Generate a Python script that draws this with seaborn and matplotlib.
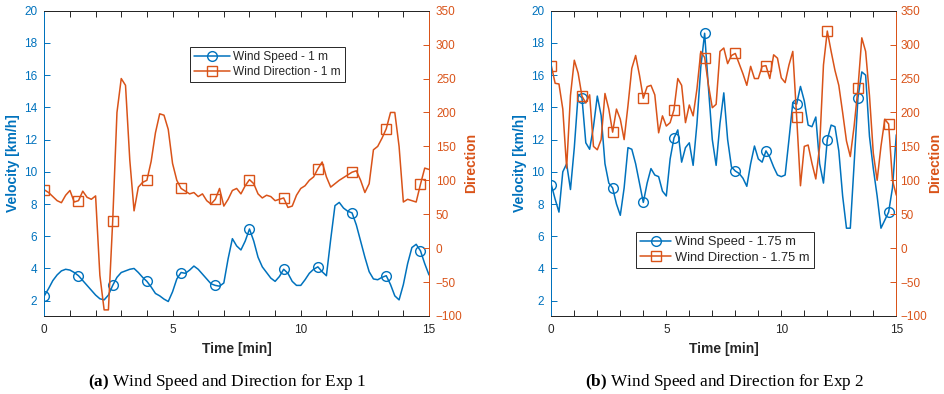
import numpy as np
import matplotlib
matplotlib.use("Agg")
import matplotlib.pyplot as plt
from matplotlib.lines import Line2D
import seaborn as sns

sns.set_style("ticks")
plt.rcParams["font.family"] = ["Liberation Sans", "DejaVu Sans"]
plt.rcParams["mathtext.fontset"] = "custom"
plt.rcParams["mathtext.rm"] = "Liberation Serif"
plt.rcParams["mathtext.bf"] = "Liberation Serif:bold"

BLUE = "#0072BD"
ORANGE = "#D95319"
DARK = "#262626"

# sample times: one reading every 10 s over 15 minutes
time_min = np.arange(91) / 6

# Exp 1, sensor at 1 m
speed_1m = [
    2.30, 2.75, 3.25, 3.60, 3.85, 3.95, 3.90, 3.75, 3.55, 3.25,
    2.95, 2.65, 2.35, 2.12, 2.05, 2.35, 2.95, 3.45, 3.75, 3.85,
    3.95, 4.00, 3.75, 3.45, 3.20, 2.85, 2.45, 2.30, 2.10, 1.95,
    2.55, 3.35, 3.75, 3.70, 3.90, 4.15, 3.95, 3.65, 3.35, 3.05,
    2.95, 2.90, 3.10, 4.60, 5.85, 5.40, 5.15, 5.70, 6.45, 5.70,
    4.70, 4.10, 3.75, 3.40, 3.20, 3.50, 3.95, 3.70, 3.20, 2.95,
    2.95, 3.30, 3.70, 3.95, 4.10, 3.80, 3.55, 5.80, 7.90, 8.10,
    7.75, 7.55, 7.45, 6.70, 5.70, 4.70, 3.80, 3.35, 3.30, 3.45,
    3.55, 3.00, 2.30, 2.05, 3.00, 4.30, 5.30, 5.50, 5.10, 4.30,
    3.60,
]
direction_1m = [
    86, 82, 76, 70, 67, 78, 85, 68, 70, 84,
    75, 72, 77, -40, -91, -91, 40, 200, 250, 240,
    130, 55, 90, 97, 100, 128, 170, 198, 196, 175,
    125, 100, 88, 84, 80, 82, 76, 80, 70, 65,
    72, 88, 62, 72, 85, 88, 80, 92, 101, 95,
    80, 74, 78, 76, 70, 72, 74, 60, 62, 78,
    88, 92, 100, 105, 117, 127, 105, 90, 95, 100,
    104, 108, 112, 114, 100, 82, 95, 145, 150, 162,
    176, 200, 200, 150, 68, 72, 70, 68, 94, 118,
    116,
]

# Exp 2, sensor at 1.75 m
speed_175m = [
    9.2, 8.3, 7.5, 10.0, 10.5, 8.9, 11.5, 14.8, 14.6, 11.8,
    11.4, 12.8, 14.7, 13.5, 10.5, 9.3, 9.0, 8.0, 7.3, 9.0,
    11.5, 11.4, 10.5, 9.3, 8.1, 9.3, 10.2, 9.8, 9.7, 8.8,
    8.5, 10.8, 12.1, 12.6, 10.6, 11.5, 11.8, 10.4, 13.0, 16.5,
    18.6, 15.2, 12.0, 10.4, 13.0, 14.9, 12.0, 10.3, 10.05, 9.9,
    9.6, 9.1, 10.5, 11.6, 10.8, 10.6, 11.3, 10.9, 10.3, 9.8,
    9.7, 9.8, 12.0, 14.3, 14.2, 15.3, 14.4, 12.9, 12.8, 13.4,
    10.5, 9.3, 12.0, 12.9, 12.8, 11.3, 8.5, 6.5, 6.5, 10.5,
    14.6, 16.2, 16.0, 12.2, 10.2, 8.5, 6.5, 7.0, 7.5, 9.0,
    12.3,
]
direction_175m = [
    269, 243, 242, 205, 118, 225, 277, 258, 224, 214,
    226, 150, 145, 160, 228, 205, 171, 205, 190, 160,
    210, 265, 284, 255, 221, 238, 240, 226, 170, 195,
    180, 185, 204, 250, 240, 185, 211, 195, 235, 290,
    281, 240, 207, 212, 290, 295, 272, 284, 287, 272,
    257, 240, 268, 250, 250, 268, 269, 250, 285, 280,
    251, 244, 270, 290, 194, 92, 150, 152, 125, 102,
    150, 270, 320, 290, 262, 240, 200, 158, 135, 180,
    236, 310, 290, 225, 140, 100, 150, 190, 183, 100,
    78,
]

fig = plt.figure(figsize=(9.44, 3.94), dpi=100)
ax_a = fig.add_axes([44.3 / 944, 1 - 316 / 394, 384.7 / 944, 305.3 / 394])
ax_b = fig.add_axes([551.3 / 944, 1 - 316 / 394, 345 / 944, 305.3 / 394])


def draw_panel(ax, speed, direction, height, legend_anchor, legend_loc,
               legend_size, handle_len, right_pad, tick_pad):
    ax2 = ax.twinx()
    sns.lineplot(x=time_min, y=speed, ax=ax, color=BLUE, linewidth=1.1,
                 marker="o", markevery=8, markersize=7,
                 markerfacecolor="none", markeredgecolor=BLUE,
                 markeredgewidth=1.0, legend=False)
    sns.lineplot(x=time_min, y=direction, ax=ax2, color=ORANGE, linewidth=1.1,
                 marker="s", markevery=8, markersize=6.5,
                 markerfacecolor="none", markeredgecolor=ORANGE,
                 markeredgewidth=1.0, legend=False)

    ax.set_xlim(0, 15)
    ax.set_ylim(1.05, 20)
    ax2.set_ylim(-100, 350)
    ax.set_xticks(range(16))
    ax.set_xticklabels([str(i) if i % 5 == 0 else "" for i in range(16)])
    ax.set_yticks(range(2, 21, 2))
    ax2.set_yticks(range(-100, 351, 50))

    ax.tick_params(axis="x", direction="in", length=4, width=0.7, top=True,
                   colors=DARK, labelsize=8.5, pad=6)
    ax.tick_params(axis="y", direction="in", length=4, width=0.7,
                   colors=BLUE, labelsize=8.5, pad=5)
    ax2.tick_params(axis="y", direction="in", length=4, width=0.7,
                    colors=ORANGE, labelsize=8.5, pad=tick_pad)

    for a in (ax, ax2):
        a.spines["left"].set_color(BLUE)
        a.spines["right"].set_color(ORANGE)
        a.spines["top"].set_color(DARK)
        a.spines["bottom"].set_color(DARK)
        for s in a.spines.values():
            s.set_linewidth(0.7)

    ax.set_xlabel("Time [min]", fontsize=10, fontweight="bold", color=DARK,
                  labelpad=4)
    ax.set_ylabel("Velocity [km/h]", fontsize=10, fontweight="bold",
                  color=BLUE, labelpad=3)
    ax2.set_ylabel("Direction", fontsize=10, fontweight="bold", color=ORANGE,
                   rotation=90, labelpad=right_pad)

    handles = [
        Line2D([], [], color=BLUE, linewidth=1.1, marker="o", markersize=7,
               markerfacecolor="none", markeredgecolor=BLUE,
               markeredgewidth=1.0),
        Line2D([], [], color=ORANGE, linewidth=1.1, marker="s",
               markersize=6.5, markerfacecolor="none",
               markeredgecolor=ORANGE, markeredgewidth=1.0),
    ]
    labels = [f"Wind Speed - {height}", f"Wind Direction - {height}"]
    leg = ax2.legend(handles, labels, loc=legend_loc,
                     bbox_to_anchor=legend_anchor, fontsize=legend_size,
                     handlelength=handle_len, handletextpad=0.3,
                     borderpad=0.35, labelspacing=0.25, borderaxespad=0,
                     fancybox=False, framealpha=1, edgecolor=DARK)
    leg.get_frame().set_linewidth(0.7)
    for txt in leg.get_texts():
        txt.set_color(DARK)
    return ax2


draw_panel(ax_a, speed_1m, direction_1m, "1 m", (0.378, 0.881),
           "upper left", 8.6, 3.0, 1, 5)
draw_panel(ax_b, speed_175m, direction_175m, "1.75 m", (0.245, 0.157),
           "lower left", 9.3, 2.4, 1, 3)

fig.text(227 / 944, 1 - 381.5 / 394,
         r"$\mathbf{(a)}$ Wind Speed and Direction for Exp 1",
         ha="center", va="center", fontsize=12.4,
         family=["Liberation Serif", "DejaVu Serif"], color="black")
fig.text(725 / 944, 1 - 381.5 / 394,
         r"$\mathbf{(b)}$ Wind Speed and Direction for Exp 2",
         ha="center", va="center", fontsize=12.4,
         family=["Liberation Serif", "DejaVu Serif"], color="black")

fig.savefig("out.png", dpi=100, facecolor="white")
